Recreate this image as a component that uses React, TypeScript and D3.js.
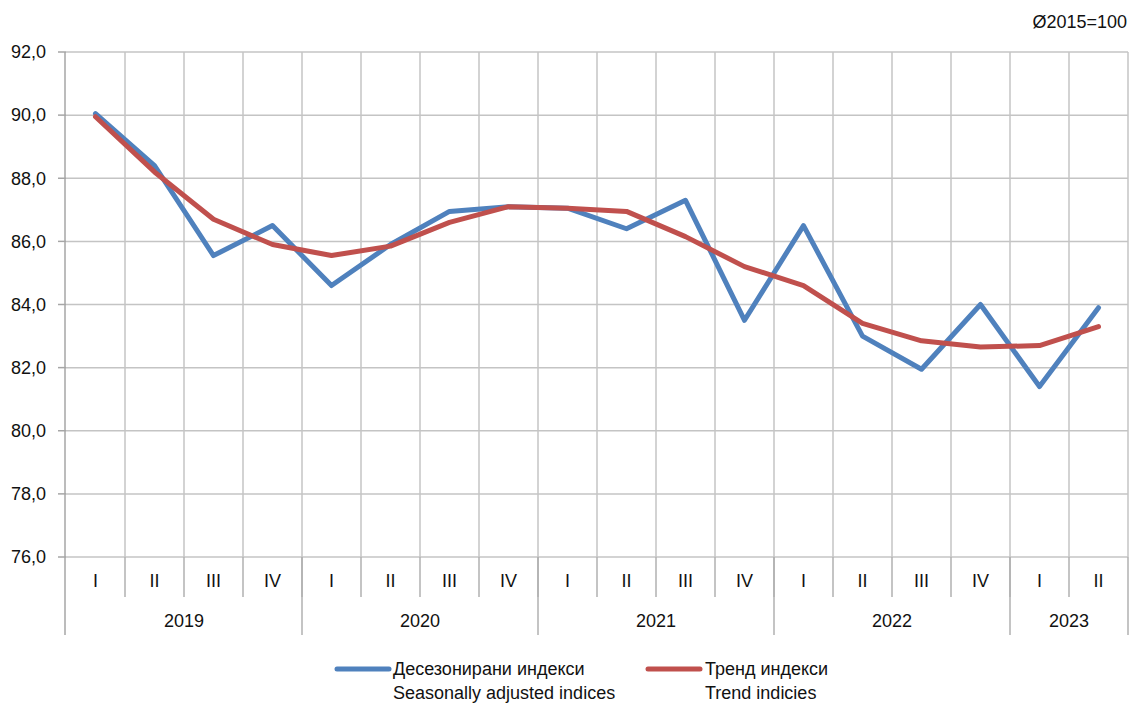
import React from "react";
import * as d3 from "d3";

const quarters = ["I", "II", "III", "IV", "I", "II", "III", "IV", "I", "II", "III", "IV", "I", "II", "III", "IV", "I", "II"];
const years = [
  { label: "2019", count: 4 },
  { label: "2020", count: 4 },
  { label: "2021", count: 4 },
  { label: "2022", count: 4 },
  { label: "2023", count: 2 },
];
const seasonal = [90.05, 88.4, 85.55, 86.5, 84.6, 85.9, 86.95, 87.1, 87.05, 86.4, 87.3, 83.5, 86.5, 83.0, 81.95, 84.0, 81.4, 83.9];
const trend = [89.95, 88.2, 86.7, 85.9, 85.55, 85.85, 86.6, 87.1, 87.05, 86.95, 86.15, 85.2, 84.6, 83.4, 82.85, 82.65, 82.7, 83.3];
const yTicks = [76, 78, 80, 82, 84, 86, 88, 90, 92];

const W = 1132;
const H = 706;
const left = 66;
const right = 1128;
const top = 52;
const bottom = 557;
const font = "'Liberation Sans', Arial, sans-serif";
const blue = "#4f81bd";
const red = "#c0504d";

const App: React.FC = () => {
  const idx = d3.range(quarters.length);
  const x = d3.scaleBand<number>().domain(idx).range([left, right]);
  const y = d3.scaleLinear().domain([76, 92]).range([bottom, top]);
  const cx = (i: number) => (x(i) as number) + x.bandwidth() / 2;

  const line = d3
    .line<number>()
    .x((_d, i) => cx(i))
    .y((d) => y(d));

  const fmt = (v: number) => v.toFixed(1).replace(".", ",");

  // year boundaries
  let acc = 0;
  const yearBlocks = years.map((yr) => {
    const start = acc;
    acc += yr.count;
    return { ...yr, start, end: acc };
  });
  const edgeX = (i: number) => (i >= quarters.length ? right : (x(i) as number));

  return (
    <svg
      width={W}
      height={H}
      style={{ position: "absolute", left: 0, top: 0, background: "#fff" }}
      fontFamily={font}
    >
      {/* horizontal grid */}
      {yTicks.map((t) => (
        <g key={t}>
          <line x1={left} x2={right} y1={y(t)} y2={y(t)} stroke="#c4c4c4" strokeWidth={1.5} />
          <line x1={58} x2={left} y1={y(t)} y2={y(t)} stroke="#a6a6a6" strokeWidth={1.5} />
          <text x={46} y={y(t)} dy="0.35em" textAnchor="end" fontSize={18} fill="#111">
            {fmt(t)}
          </text>
        </g>
      ))}
      {/* vertical grid */}
      {idx.slice(1).map((i) => (
        <line key={i} x1={x(i)} x2={x(i)} y1={top} y2={bottom} stroke="#c4c4c4" strokeWidth={1.5} />
      ))}
      <line x1={right} x2={right} y1={top} y2={bottom} stroke="#c4c4c4" strokeWidth={1.5} />

      {/* category axis */}
      {idx.slice(1).map((i) => (
        <line key={"q" + i} x1={x(i)} x2={x(i)} y1={bottom} y2={597} stroke="#b0b0b0" strokeWidth={1.5} />
      ))}
      {yearBlocks.map((b) => (
        <line key={"y" + b.label} x1={edgeX(b.end)} x2={edgeX(b.end)} y1={bottom} y2={635} stroke="#b0b0b0" strokeWidth={1.5} />
      ))}
      <line x1={left - 1} x2={left - 1} y1={top} y2={635} stroke="#a6a6a6" strokeWidth={1.5} />
      {quarters.map((q, i) => (
        <text key={"ql" + i} x={cx(i)} y={581} dy="0.35em" textAnchor="middle" fontSize={18} fill="#111">
          {q}
        </text>
      ))}
      {yearBlocks.map((b) => (
        <text
          key={"yl" + b.label}
          x={(edgeX(b.start) + edgeX(b.end)) / 2}
          y={621}
          dy="0.35em"
          textAnchor="middle"
          fontSize={18}
          fill="#111"
        >
          {b.label}
        </text>
      ))}

      {/* series */}
      <path d={line(seasonal) ?? ""} fill="none" stroke={blue} strokeWidth={5} strokeLinejoin="round" strokeLinecap="round" />
      <path d={line(trend) ?? ""} fill="none" stroke={red} strokeWidth={5} strokeLinejoin="round" strokeLinecap="round" />

      {/* unit note */}
      <text x={1127} y={22} dy="0.35em" textAnchor="end" fontSize={18} fill="#111">
        Ø2015=100
      </text>

      {/* legend */}
      <line x1={337} x2={389} y1={669} y2={669} stroke={blue} strokeWidth={5} strokeLinecap="round" />
      <text x={393} y={669} dy="0.35em" fontSize={18} fill="#111">Десезонирани индекси</text>
      <text x={393} y={693} dy="0.35em" fontSize={18} fill="#111">Seasonally adjusted indices</text>
      <line x1={648} x2={700} y1={669} y2={669} stroke={red} strokeWidth={5} strokeLinecap="round" />
      <text x={705} y={669} dy="0.35em" fontSize={18} fill="#111">Тренд индекси</text>
      <text x={705} y={693} dy="0.35em" fontSize={18} fill="#111">Trend indicies</text>
    </svg>
  );
};

export default App;
